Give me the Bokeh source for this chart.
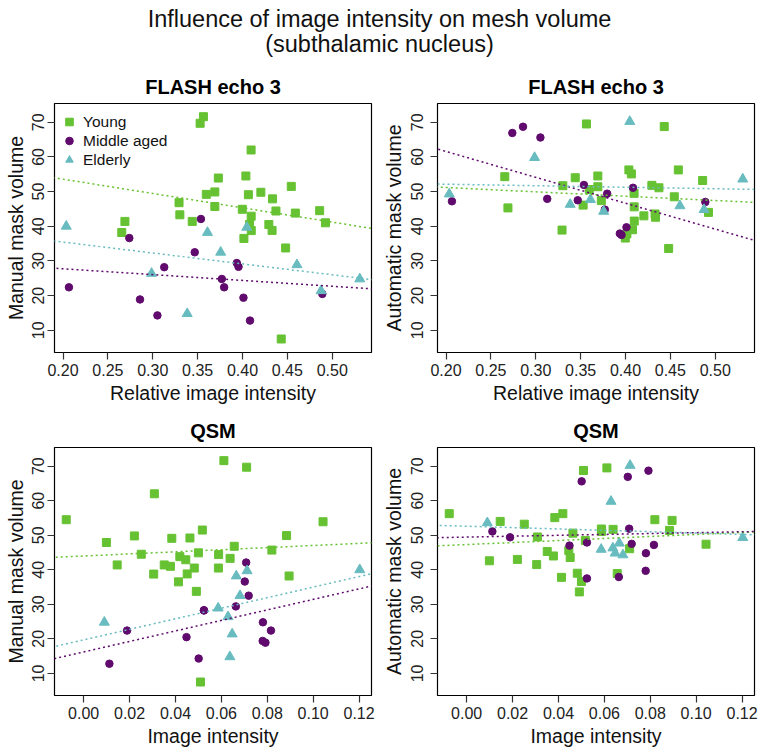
import numpy as np
from bokeh.plotting import figure
from bokeh.models import Range1d, FixedTicker, PrintfTickFormatter, Slope, Legend, LegendItem
from bokeh.layouts import column, row
from bokeh.core.properties import value
from bokeh.embed import file_html
from bokeh.resources import INLINE

FONT = "Liberation Sans"

TITLE_LINES = ["Influence of image intensity on mesh volume", "(subthalamic nucleus)"]
PANEL_TITLES = ["FLASH echo 3", "FLASH echo 3", "QSM", "QSM"]
X_LABELS = ["Relative image intensity", "Relative image intensity", "Image intensity", "Image intensity"]
Y_LABELS = ["Manual mask volume", "Automatic mask volume", "Manual mask volume", "Automatic mask volume"]
GROUPS = ["Young", "Middle aged", "Elderly"]

FLASH_TICKS = [0.20, 0.25, 0.30, 0.35, 0.40, 0.45, 0.50]
QSM_TICKS = [0.00, 0.02, 0.04, 0.06, 0.08, 0.10, 0.12]
Y_TICKS = [10, 20, 30, 40, 50, 60, 70]
Y_LIMITS = (3.6, 75.4)

# ---- Young ----
young_flash = [0.3565, 0.3528, 0.4096, 0.4038, 0.3731, 0.3597, 0.3692, 0.4066, 0.4205, 0.4544,
               0.3293, 0.4335, 0.3692, 0.3998, 0.4373, 0.4589, 0.4860, 0.3302, 0.4097, 0.3440,
               0.2690, 0.4925, 0.4078, 0.4294, 0.4330, 0.4098, 0.2655, 0.4016, 0.4481, 0.4432]
young_qsm = [0.0611, 0.0710, 0.0308, -0.0076, 0.1043, 0.0463, 0.0884, 0.0384, 0.0221, 0.0517,
             0.0656, 0.0099, 0.0820, 0.0500, 0.0588, 0.0419, 0.0251, 0.0638, 0.0445, 0.0146,
             0.0351, 0.0378, 0.0482, 0.0587, 0.0451, 0.0305, 0.0895, 0.0413, 0.0491, 0.0509]
young_manual = [71.6, 69.7, 62.0, 54.5, 53.9, 49.2, 49.9, 49.1, 49.8, 51.5,
                46.8, 47.9, 45.7, 44.9, 44.4, 43.8, 44.5, 43.3, 42.9, 41.4,
                41.4, 41.0, 40.5, 40.5, 38.8, 38.75, 38.2, 36.5, 33.75, 7.5]
young_auto = [69.5, 46.1, 49.5, 56.25, 47.4, 50.6, 51.4, 55.1, 43.0, 48.5,
              38.9, 42.6, 54.5, 36.6, 51.1, 56.25, 53.2, 51.7, 45.6, 54.0,
              45.3, 44.0, 39.0, 51.8, 43.55, 41.5, 54.3, 37.8, 33.6, 68.75]

# ---- Middle aged ----
middle_flash = [0.3537, 0.2739, 0.3468, 0.3128, 0.3937, 0.3956, 0.3770, 0.3796, 0.2066, 0.2858,
                0.4011, 0.4890, 0.3052, 0.4084]
middle_qsm = [0.0708, 0.0702, 0.0719, 0.0524, 0.0663, 0.0524, 0.0781, 0.0189, 0.0816, 0.0792,
              0.0780, 0.0448, 0.0501, 0.0112]
middle_manual = [42.1, 36.6, 32.5, 28.2, 29.4, 28.3, 24.8, 22.4, 22.4, 18.9,
                 19.4, 20.5, 14.3, 12.8]
middle_auto = [51.9, 66.9, 47.5, 47.9, 37.9, 37.5, 44.8, 49.4, 47.2, 68.7,
               39.7, 47.0, 65.6, 51.1]

# ---- Elderly ----
elderly_flash = [0.2036, 0.4048, 0.3610, 0.3757, 0.2987, 0.4607, 0.4876, 0.5307, 0.3384]
elderly_qsm = [0.1203, 0.0712, 0.0665, 0.0681, 0.0629, 0.0586, 0.0647, 0.0090, 0.0637]
elderly_manual = [40.0, 39.7, 38.2, 32.5, 26.4, 28.9, 21.4, 24.8, 14.8]
elderly_auto = [49.3, 70.2, 47.7, 44.3, 59.8, 45.9, 44.8, 53.6, 46.3]

COLORS = ["#66C232", "#600A6E", "#68BCC0"]
MARKERS = ["square", "circle", "triangle"]
SIZES = [8, 7.5, 10]

DATA = {
    "Young": {"flash": young_flash, "qsm": young_qsm, "manual": young_manual, "auto": young_auto},
    "Middle aged": {"flash": middle_flash, "qsm": middle_qsm, "manual": middle_manual, "auto": middle_auto},
    "Elderly": {"flash": elderly_flash, "qsm": elderly_qsm, "manual": elderly_manual, "auto": elderly_auto},
}


def padded(vals):
    lo, hi = min(vals), max(vals)
    d = (hi - lo) * 0.04
    return lo - d, hi + d


def make_panel(idx, xkey, ykey, ticks, width, height, bl, br, bt, bb, legend=False, right=False):
    allx = sum((DATA[g][xkey] for g in GROUPS), [])
    xr = padded(allx)
    p = figure(width=width, height=height, x_range=Range1d(*xr), y_range=Range1d(*Y_LIMITS),
               toolbar_location=None, output_backend="svg", title=PANEL_TITLES[idx],
               min_border_left=bl, min_border_right=br, min_border_top=bt, min_border_bottom=bb)
    p.title.align = "center"
    p.title.text_font = FONT
    p.title.text_font_size = "20px"
    p.title.text_font_style = "bold"
    p.title.text_color = "black"
    p.title.standoff = 11
    p.xgrid.visible = False
    p.ygrid.visible = False
    p.outline_line_color = "black"
    p.outline_line_width = 1.2
    p.background_fill_color = "white"
    p.border_fill_color = "white"

    p.xaxis.ticker = FixedTicker(ticks=ticks)
    p.xaxis.formatter = PrintfTickFormatter(format="%.2f")
    p.yaxis.ticker = FixedTicker(ticks=Y_TICKS)
    p.yaxis.formatter = PrintfTickFormatter(format="%d")
    p.yaxis.major_label_orientation = "parallel"
    p.xaxis.axis_label = X_LABELS[idx]
    p.yaxis.axis_label = Y_LABELS[idx]
    for ax in (p.xaxis, p.yaxis):
        ax.axis_line_color = None
        ax.major_tick_line_color = "#333333"
        ax.major_tick_line_width = 1.2
        ax.major_tick_in = 0
        ax.minor_tick_line_color = None
        ax.major_label_text_font = FONT
        ax.major_label_text_font_size = "16px"
        ax.major_label_text_color = "#222222"
        ax.axis_label_text_font = FONT
        ax.axis_label_text_font_size = "19.5px"
        ax.axis_label_text_font_style = "normal"
        ax.axis_label_text_color = "#111111"
    p.xaxis.major_tick_out = 7
    p.xaxis.major_label_standoff = 4
    p.xaxis.axis_label_standoff = 3
    p.yaxis.major_tick_out = 7
    p.yaxis.major_label_standoff = 7 if right else 3
    p.yaxis.axis_label_standoff = 4 if right else 3

    rends = []
    for g, c, m, s in zip(GROUPS, COLORS, MARKERS, SIZES):
        r = p.scatter(DATA[g][xkey], DATA[g][ykey], marker=m, size=s, color=c)
        rends.append(r)
    for g, c in zip(GROUPS, COLORS):
        slope, icpt = np.polyfit(DATA[g][xkey], DATA[g][ykey], 1)
        p.add_layout(Slope(gradient=float(slope), y_intercept=float(icpt), line_color=c,
                           line_width=1.5, line_dash="2 3"))
    if legend:
        lg = Legend(items=[LegendItem(label=g, renderers=[r]) for g, r in zip(GROUPS, rends)],
                    location=(5, 183), border_line_color=None, background_fill_alpha=0,
                    padding=0, margin=0, spacing=0, label_height=19, glyph_height=19,
                    glyph_width=20, label_standoff=4, label_text_font=FONT,
                    label_text_font_size="15.5px", label_text_color="#111111")
        p.add_layout(lg)
    return p


tf = figure(width=758, height=68, x_range=Range1d(0, 758), y_range=Range1d(0, 68),
            x_axis_type=None, y_axis_type=None, toolbar_location=None, output_backend="svg",
            min_border=0, outline_line_color=None)
tf.xgrid.visible = False
tf.ygrid.visible = False
tf.text(x=[379, 379], y=[50, 25], text=TITLE_LINES, text_align="center", text_baseline="middle",
        text_font=value(FONT), text_font_size="23.5px", text_color="#111111")

p1 = make_panel(0, "flash", "manual", FLASH_TICKS, 378, 344, 54, 7, 34, 60, legend=True)
p2 = make_panel(1, "flash", "auto", FLASH_TICKS, 380, 344, 59, 4, 34, 60, right=True)
p3 = make_panel(2, "qsm", "manual", QSM_TICKS, 378, 339, 54, 7, 33, 56)
p4 = make_panel(3, "qsm", "auto", QSM_TICKS, 380, 339, 59, 4, 33, 56, right=True)

layout = column(tf, row(p1, p2), row(p3, p4))
open("out.html", "w").write(file_html(layout, INLINE))
